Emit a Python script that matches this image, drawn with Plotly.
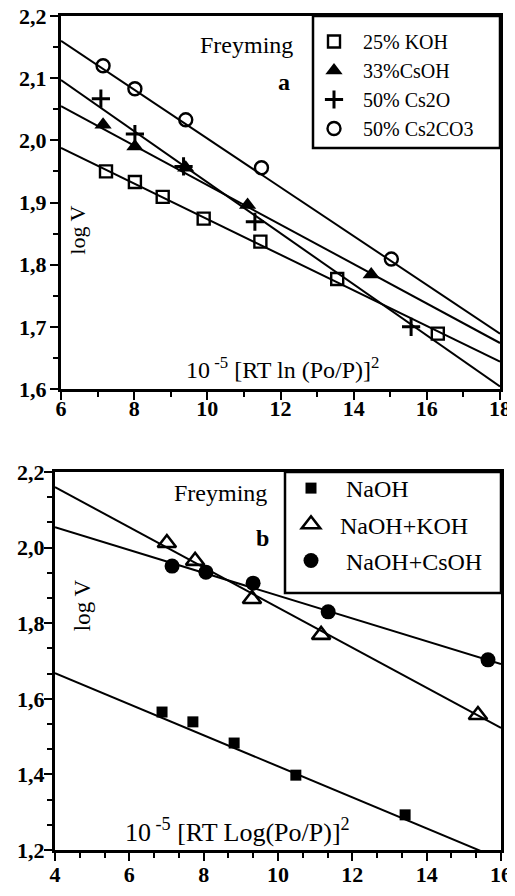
import plotly.graph_objects as go

# The page body has an 8px margin, so the figure is sized to fit inside the window.
OFF = 8
W, H = 515 - OFF, 896 - OFF

# ---------------- Panel a data ----------------
koh_x = [7.23, 8.02, 8.78, 9.9, 11.45, 13.55, 16.3]
koh_y = [1.95, 1.933, 1.909, 1.874, 1.837, 1.777, 1.689]
csoh_x = [7.15, 8.02, 9.41, 11.1, 14.48]
csoh_y = [2.025, 1.99, 1.956, 1.896, 1.784]
cs2o_x = [7.09, 8.02, 9.35, 11.3, 15.57]
cs2o_y = [2.067, 2.01, 1.958, 1.869, 1.70]
cs2co3_x = [7.15, 8.02, 9.41, 11.48, 15.03]
cs2co3_y = [2.12, 2.083, 2.033, 1.956, 1.809]

fit_x_a = [6, 18]
fit_koh = [1.988, 1.644]
fit_csoh = [2.055, 1.674]
fit_cs2o = [2.097, 1.604]
fit_cs2co3 = [2.16, 1.689]

# ---------------- Panel b data ----------------
naoh_x = [6.88, 7.71, 8.82, 10.48, 13.42]
naoh_y = [1.565, 1.539, 1.483, 1.398, 1.293]
nakoh_x = [7.01, 7.77, 9.3, 11.16, 15.38]
nakoh_y = [2.012, 1.965, 1.864, 1.769, 1.557]
nacsoh_x = [7.15, 8.06, 9.33, 11.35, 15.65]
nacsoh_y = [1.951, 1.935, 1.906, 1.83, 1.703]

fit_x_b = [4, 16]
fit_naoh = [1.668, 1.175]
fit_nakoh = [2.16, 1.523]
fit_nacsoh = [2.054, 1.692]

labels_a = ["25% KOH", "33%CsOH", "50% Cs2O", "50% Cs2CO3"]
labels_b = ["\u00a0NaOH", "NaOH+KOH", "\u00a0NaOH+CsOH"]

SERIF = "Liberation Serif, Times New Roman, serif"
BLACK = "black"

fig = go.Figure()

def fit_line(x, y, xa, ya):
    fig.add_trace(go.Scatter(x=x, y=y, mode="lines", xaxis=xa, yaxis=ya,
                             line=dict(color=BLACK, width=2), showlegend=False,
                             hoverinfo="skip"))

for fy in [fit_koh, fit_csoh, fit_cs2o, fit_cs2co3]:
    fit_line(fit_x_a, fy, "x", "y")
for fy in [fit_naoh, fit_nakoh, fit_nacsoh]:
    fit_line(fit_x_b, fy, "x2", "y2")

def pts(x, y, name, symbol, size, xa, ya, legend, fill=BLACK, lw=2, group=None):
    fig.add_trace(go.Scatter(
        x=x, y=y, mode="markers", name=name, xaxis=xa, yaxis=ya, legend=legend,
        legendgroup=group,
        marker=dict(symbol=symbol, size=size, color=fill,
                    line=dict(color=BLACK, width=lw)),
    ))

pts(koh_x, koh_y, labels_a[0], "square-open", 12, "x", "y", "legend", lw=2.4)
pts(csoh_x, csoh_y, labels_a[1], "triangle-up", 15, "x", "y", "legend", lw=0)
pts(cs2o_x, cs2o_y, labels_a[2], "cross-thin", 13, "x", "y", "legend", lw=3)
pts(cs2co3_x, cs2co3_y, labels_a[3], "circle-open", 13, "x", "y", "legend", lw=2.4)

pts(naoh_x, naoh_y, labels_b[0], "square", 11, "x2", "y2", "legend2", lw=0, group="g1")
pts(nakoh_x, nakoh_y, labels_b[1], "triangle-up-open", 16, "x2", "y2", "legend2", lw=2.6, group="g2")
pts(nacsoh_x, nacsoh_y, labels_b[2], "circle", 15, "x2", "y2", "legend2", lw=0, group="g3")

# convert window pixel positions to paper fractions
def px(v):
    return (v - OFF) / W

def py(v):
    return 1 - (v - OFF) / H

tickfont = dict(family="Liberation Serif", size=22, color=BLACK, weight="bold")
minor_style = dict(ticks="outside", ticklen=5, tickwidth=2, tickcolor=BLACK)
axis_common = dict(showline=True, linewidth=3, linecolor=BLACK, mirror=True,
                   ticks="outside", ticklen=8, tickwidth=2, tickcolor=BLACK,
                   showgrid=False, zeroline=False, tickfont=tickfont,
                   automargin=False, ticklabeloverflow="allow")

fig.update_layout(
    template="none",
    width=W, height=H, margin=dict(l=0, r=0, t=0, b=0, autoexpand=False),
    paper_bgcolor="white", plot_bgcolor="white",
    separators=", ",
    font=dict(family=SERIF, color=BLACK),
    xaxis=dict(domain=[px(61), px(500)], range=[6, 18], dtick=2, tick0=6,
               anchor="y", ticklabelstandoff=-10,
               minor=dict(dtick=1, tick0=6, **minor_style), **axis_common),
    yaxis=dict(domain=[py(389), py(16)], range=[1.6, 2.2], dtick=0.1, tick0=1.6,
               tickformat=".1f", anchor="x", ticklabelstandoff=-1,
               minor=dict(dtick=0.05, tick0=1.6, **minor_style), **axis_common),
    xaxis2=dict(domain=[px(55), px(501)], range=[4, 16], dtick=2, tick0=4,
                anchor="y2", ticklabelstandoff=-5,
                minor=dict(dtick=2/3, tick0=4, **minor_style), **axis_common),
    yaxis2=dict(domain=[py(850), py(472)], range=[1.2, 2.2], dtick=0.2, tick0=1.2,
                tickformat=".1f", anchor="x2", ticklabelstandoff=-5,
                minor=dict(dtick=0.2/3, tick0=1.2, **minor_style), **axis_common),
    legend=dict(x=px(305), y=py(22), xanchor="left", yanchor="top",
                bgcolor="rgba(0,0,0,0)", borderwidth=0, itemwidth=48,
                font=dict(family=SERIF, size=20, color=BLACK)),
    legend2=dict(x=px(282), y=py(466), xanchor="left", yanchor="top",
                 bgcolor="rgba(0,0,0,0)", borderwidth=0, itemwidth=48,
                 tracegroupgap=2,
                 font=dict(family=SERIF, size=24, color=BLACK)),
    shapes=[
        dict(type="rect", xref="paper", yref="paper", x0=px(313), x1=px(500),
             y0=py(148), y1=py(16), line=dict(color=BLACK, width=2.5), layer="above"),
        dict(type="rect", xref="paper", yref="paper", x0=px(285), x1=px(501),
             y0=py(593), y1=py(472), line=dict(color=BLACK, width=2.5), layer="above"),
    ],
)

ann = []
def add_text(text, x, y, xref, yref, size, bold=False, angle=0):
    ann.append(dict(text=f"<b>{text}</b>" if bold else text, x=x, y=y, xref=xref, yref=yref,
                    showarrow=False, textangle=angle,
                    font=dict(family=SERIF, size=size, color=BLACK),
                    xanchor="center", yanchor="middle"))

add_text("Freyming", 11.07, 2.153, "x", "y", 24)
add_text("a", 12.1, 2.094, "x", "y", 24, bold=True)
add_text("10<sup> -5</sup> [RT ln (Po/P)]<sup>2</sup>", 12.05, 1.633, "x", "y", 24)
add_text("log V", 6.46, 1.856, "x", "y", 22, angle=-90)

add_text("Freyming", 8.44, 2.144, "x2", "y2", 24)
add_text("b", 9.57, 2.025, "x2", "y2", 24, bold=True)
add_text("10<sup> -5</sup> [RT Log(Po/P)]<sup>2</sup>", 8.92, 1.252, "x2", "y2", 26)
add_text("log V", 4.73, 1.848, "x2", "y2", 23, angle=-90)

fig.update_layout(annotations=ann)

fig.write_html("out.html")
